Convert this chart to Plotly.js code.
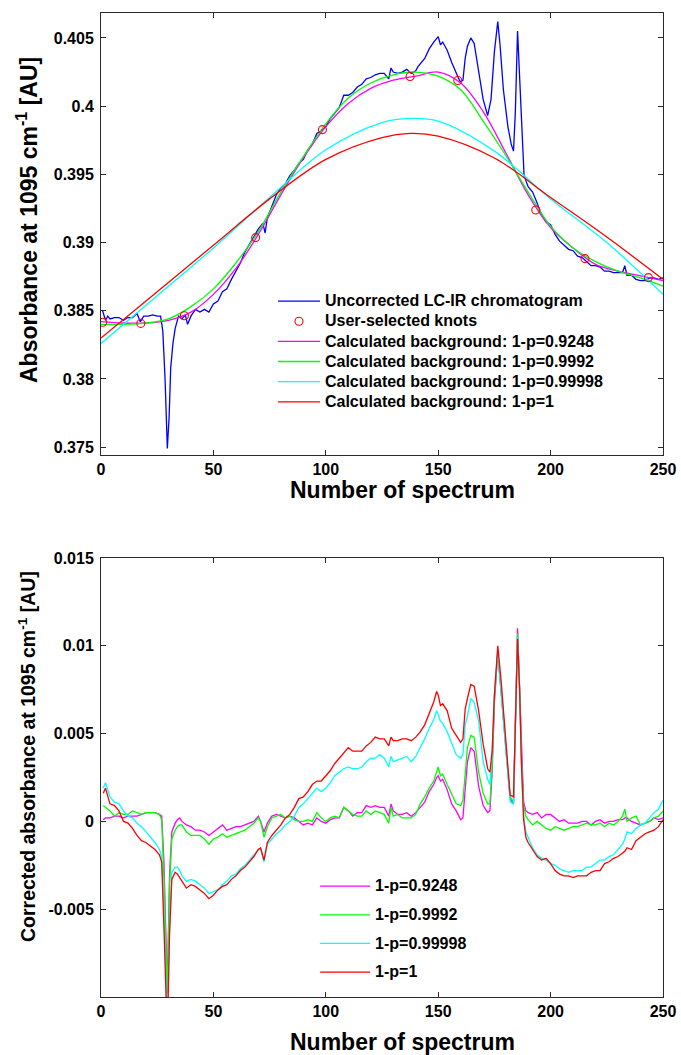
<!DOCTYPE html>
<html><head><meta charset="utf-8">
<script src="https://cdn.plot.ly/plotly-3.0.1.min.js"></script>
<style>html,body{margin:0;padding:0;background:#fff}#chart{width:681px;height:1055px}</style>
</head><body><div id="chart"></div>
<script>
// ---------- Top panel: uncorrected chromatogram ----------
const rawX = [0.7,2,3,4,6,8,10,12,14,16,
  17.5,19,21,23,25,26.5,27.5,28.5,29.5,30.3,
  31,32,33,34.5,36,37.5,38.5,40,42,44,
  46,48,50,52,54,56,58,60,62,64,
  66,68,70,72,73,74,76,78,80,82,
  84,86,88,90,92,94,96,98,100,102,
  104,106,108,110,112,114,116,118,120,122,
  124,126,128,129,130,132,134,136,138,140,
  141,142,144,146,148,150,151,152,154,156,
  158,159.7,161,162,163,164.5,166,168,170,172,
  173.5,175,176.5,177.5,179,181,182.5,183.5,184.3,185.3,
  186.2,187.2,188.2,190,192,194,196,198,200,202,
  204,206,208,210,212,214,216,218,220,222,
  224,226,228,230,232,233,234,236,238,240,
  242,244,246,248,250];
const rawY = [0.3850,0.3843,0.3846,0.3844,0.3845,0.3845,0.3843,0.3845,0.3845,0.3848,
  0.3842,0.3846,0.3846,0.3847,0.3846,0.3846,0.3835,0.3800,0.3749,0.3772,
  0.3808,0.3826,0.3837,0.3846,0.3844,0.3847,0.3840,0.3846,0.3851,0.3849,
  0.3851,0.3849,0.3855,0.3857,0.3864,0.3866,0.3873,0.3879,0.3885,0.3893,
  0.3899,0.3905,0.3910,0.3914,0.3907,0.3918,0.3927,0.3935,0.3940,0.3943,
  0.3949,0.3953,0.3958,0.3961,0.3968,0.3972,0.3980,0.3982,0.3985,0.3991,
  0.3995,0.3999,0.4008,0.4008,0.4010,0.4014,0.4016,0.4020,0.4021,0.4023,
  0.4024,0.4024,0.4020,0.4028,0.4025,0.4024,0.4025,0.4027,0.4024,0.4026,
  0.4029,0.4031,0.4035,0.4042,0.4047,0.4051,0.4045,0.4047,0.4041,0.4032,
  0.4024,0.4018,0.4019,0.4035,0.4044,0.4050,0.4046,0.4025,0.4005,0.3993,
  0.4005,0.4040,0.4062,0.4045,0.4012,0.3985,0.3972,0.3967,0.3995,0.4055,
  0.4020,0.3985,0.3949,0.3941,0.3937,0.3929,0.3920,0.3915,0.3913,0.3906,
  0.3901,0.3898,0.3895,0.3894,0.3890,0.3889,0.3886,0.3883,0.3883,0.3882,
  0.3879,0.3879,0.3878,0.3878,0.3878,0.3883,0.3876,0.3876,0.3873,0.3872,
  0.3872,0.3874,0.3874,0.3873,0.3874];

const knotX = [0.75,17.7,37.1,68.8,98.5,137.5,158.7,193.4,215.3,243.5];
const knotY = [0.38415,0.38407,0.38463,0.39036,0.39828,0.40217,0.40188,0.39238,0.38882,0.38743];

const bgX = [0,10,20,30,40,50,60,70,80,90,100,110,120,130,140,150,160,170,180,190,200,210,220,230,240,250];
const bgMagenta = [0.3842,0.3841,0.3841,0.3843,0.3849,0.3862,0.3881,0.3906,0.3935,0.3962,0.3985,0.4002,0.4013,0.4019,0.4022,0.4025,0.4017,0.3996,0.3966,0.3935,0.3911,0.3896,0.3884,0.3879,0.38755,0.3872];
const bgGreen = [0.3840,0.3840,0.3841,0.3844,0.3853,0.3866,0.3885,0.3908,0.3937,0.3963,0.3987,0.4006,0.4017,0.4023,0.4025,0.4022,0.4012,0.3989,0.3964,0.3937,0.3912,0.3896,0.3886,0.3879,0.3874,0.3868];
const bgX2 = [0,25,50,75,100,125,137.5,150,175,200,225,250];
const bgCyan = [0.3826,0.3861,0.3896,0.3933,0.3968,0.3988,0.3991,0.3989,0.3967,0.3932,0.3900,0.3862];
const bgRed = [0.3830,0.3864,0.3898,0.3932,0.3961,0.3977,0.3980,0.3978,0.3962,0.3933,0.3904,0.3873];

const topNames = ['Uncorrected LC-IR chromatogram','User-selected knots',
  'Calculated background: 1-p=0.9248','Calculated background: 1-p=0.9992',
  'Calculated background: 1-p=0.99998','Calculated background: 1-p=1'];
const topTickVals = [0.375,0.38,0.385,0.39,0.395,0.4,0.405];
const topTickText = ['0.375','0.38','0.385','0.39','0.395','0.4','0.405'];

// ---------- Bottom panel: corrected chromatograms ----------
const corrX = [1,2,4,6,8,10,12,14,16,18,
  20,22,24,26,27,28,29.5,30.5,31.5,33,
  34,35,36,38,40,42,44,46,48,50,
  52,54,56,58,60,62,64,66,68,70,
  71,72.5,74,76,78,80,82,84,86,88,
  90,92,94,96,98,100,102,104,106,108,
  110,112,114,116,118,120,122,124,126,128,
  129,130,132,134,136,138,140,142,144,146,
  148,149.3,150,151,152,154,156,158,160,161,
  162,163,164.5,166,168,170,172,173,174,175,
  176.5,178,180,182,183.5,184.3,185.3,186.2,187,188,
  189,190,192,194,196,198,200,202,204,206,
  208,210,212,214,216,218,220,222,224,226,
  228,230,232,233,234,236,238,240,242,244,
  246,248,250];
const corrMagenta = [0.0001,0.0002,0.0002,0.0003,0.0003,0.0002,0.0003,0.0003,0.0003,0.0004,
  0.0005,0.0005,0.0005,0.0004,0.0003,-0.0023,-0.0096,-0.0030,-0.0006,-0.0001,
  0.0001,0.0002,0.0000,-0.0002,-0.0003,-0.0005,-0.0005,-0.0006,-0.0008,-0.0006,
  -0.0004,-0.0002,-0.0005,-0.0004,-0.0003,-0.0003,-0.0002,-0.0001,0.0000,0.0003,
  0.0000,-0.0006,-0.0001,0.0003,0.0004,0.0003,0.0002,0.0003,0.0002,0.0000,
  -0.0002,-0.0001,-0.0002,0.0002,0.0000,-0.0001,0.0001,0.0002,0.0002,0.0008,
  0.0006,0.0003,0.0005,0.0005,0.0009,0.0008,0.0009,0.0008,0.0008,0.0003,
  0.0010,0.0006,0.0004,0.0004,0.0005,0.0003,0.0005,0.0008,0.0011,0.0017,
  0.0021,0.0025,0.0026,0.0023,0.0024,0.0018,0.0010,0.0006,0.0001,0.0002,
  0.0019,0.0034,0.0042,0.0040,0.0020,0.0009,0.0005,0.0006,0.0028,0.0068,
  0.0096,0.0074,0.0042,0.0013,0.0010,0.0057,0.0110,0.0076,0.0042,0.0011,
  0.0006,0.0005,0.0004,0.0005,0.0002,0.0004,0.0004,0.0002,0.0000,0.0001,
  -0.0001,-0.0001,-0.0001,0.0000,0.0000,-0.0002,0.0000,0.0001,-0.0001,0.0000,
  0.0000,0.0001,0.0001,0.0002,0.0002,0.0000,-0.0001,-0.0002,-0.0001,0.0000,
  0.0002,0.0001,0.0002];
const corrGreen = [0.0009,0.0008,0.0006,0.0003,0.0005,0.0004,0.0004,0.0006,0.0005,0.0004,
  0.0005,0.0005,0.0005,0.0004,0.0001,-0.0032,-0.0098,-0.0036,-0.0010,-0.0005,
  -0.0003,-0.0002,-0.0002,-0.0006,-0.0008,-0.0008,-0.0008,-0.0010,-0.0013,-0.0010,
  -0.0009,-0.0007,-0.0009,-0.0008,-0.0007,-0.0006,-0.0005,-0.0003,-0.0001,0.0002,
  0.0000,-0.0009,-0.0003,0.0002,0.0003,0.0004,0.0002,0.0003,0.0001,0.0000,
  0.0000,0.0001,0.0000,0.0005,0.0002,0.0000,0.0002,0.0003,0.0002,0.0008,
  0.0006,0.0004,0.0003,0.0003,0.0006,0.0004,0.0006,0.0005,0.0004,-0.0001,
  0.0008,0.0003,0.0004,0.0002,0.0002,0.0002,0.0004,0.0010,0.0014,0.0019,
  0.0023,0.0029,0.0031,0.0026,0.0027,0.0021,0.0015,0.0010,0.0009,0.0012,
  0.0027,0.0042,0.0049,0.0048,0.0028,0.0016,0.0010,0.0010,0.0032,0.0070,
  0.0097,0.0074,0.0046,0.0014,0.0011,0.0057,0.0107,0.0076,0.0038,0.0009,
  0.0003,0.0001,-0.0002,0.0000,-0.0002,-0.0004,-0.0005,-0.0003,-0.0004,-0.0005,
  -0.0004,-0.0003,-0.0003,-0.0002,-0.0001,-0.0002,-0.0002,-0.0001,-0.0003,-0.0001,
  -0.0002,0.0000,0.0003,0.0007,0.0000,0.0002,0.0003,-0.0002,-0.0001,0.0000,
  0.0002,0.0003,0.0006];
const corrCyan = [0.0019,0.0022,0.0014,0.0011,0.0010,0.0006,0.0003,0.0002,-0.0001,-0.0003,
  -0.0006,-0.0009,-0.0012,-0.0016,-0.0020,-0.0051,-0.0118,-0.0060,-0.0029,-0.0026,
  -0.0026,-0.0028,-0.0031,-0.0034,-0.0033,-0.0034,-0.0036,-0.0038,-0.0041,-0.0040,
  -0.0039,-0.0036,-0.0034,-0.0031,-0.0030,-0.0027,-0.0025,-0.0022,-0.0019,-0.0016,
  -0.0016,-0.0023,-0.0013,-0.0010,-0.0007,-0.0005,-0.0002,0.0000,0.0003,0.0008,
  0.0010,0.0013,0.0016,0.0019,0.0017,0.0019,0.0022,0.0026,0.0028,0.0030,
  0.0031,0.0030,0.0030,0.0031,0.0034,0.0036,0.0036,0.0038,0.0036,0.0031,
  0.0037,0.0034,0.0035,0.0036,0.0037,0.0034,0.0037,0.0042,0.0047,0.0053,
  0.0058,0.0063,0.0061,0.0057,0.0056,0.0051,0.0044,0.0038,0.0036,0.0038,
  0.0055,0.0060,0.0070,0.0068,0.0057,0.0034,0.0024,0.0021,0.0038,0.0072,
  0.0097,0.0074,0.0042,0.0011,0.0010,0.0057,0.0105,0.0074,0.0034,0.0003,
  -0.0006,-0.0009,-0.0015,-0.0019,-0.0021,-0.0022,-0.0024,-0.0025,-0.0027,-0.0028,
  -0.0029,-0.0028,-0.0028,-0.0028,-0.0026,-0.0026,-0.0024,-0.0022,-0.0022,-0.0020,
  -0.0019,-0.0016,-0.0013,-0.0010,-0.0006,-0.0007,-0.0004,-0.0002,-0.0001,0.0002,
  0.0005,0.0007,0.0012];
const corrRed = [0.0016,0.0019,0.0010,0.0009,0.0006,0.0000,-0.0001,-0.0004,-0.0008,-0.0011,
  -0.0012,-0.0014,-0.0016,-0.0019,-0.0023,-0.0060,-0.0122,-0.0064,-0.0033,-0.0029,
  -0.0030,-0.0032,-0.0034,-0.0038,-0.0036,-0.0037,-0.0039,-0.0041,-0.0044,-0.0042,
  -0.0039,-0.0037,-0.0036,-0.0033,-0.0031,-0.0028,-0.0026,-0.0023,-0.0020,-0.0016,
  -0.0015,-0.0022,-0.0012,-0.0008,-0.0005,-0.0002,0.0002,0.0004,0.0008,0.0013,
  0.0014,0.0017,0.0021,0.0023,0.0023,0.0026,0.0029,0.0033,0.0036,0.0039,
  0.0042,0.0040,0.0040,0.0040,0.0043,0.0045,0.0048,0.0047,0.0047,0.0043,
  0.0048,0.0046,0.0046,0.0047,0.0047,0.0046,0.0048,0.0051,0.0055,0.0062,
  0.0068,0.0074,0.0072,0.0066,0.0067,0.0063,0.0053,0.0049,0.0045,0.0047,
  0.0064,0.0070,0.0078,0.0077,0.0063,0.0044,0.0030,0.0028,0.0040,0.0072,
  0.0100,0.0080,0.0046,0.0015,0.0014,0.0057,0.0104,0.0076,0.0034,0.0001,
  -0.0009,-0.0012,-0.0016,-0.0020,-0.0022,-0.0021,-0.0024,-0.0028,-0.0030,-0.0031,
  -0.0031,-0.0032,-0.0031,-0.0031,-0.0031,-0.0029,-0.0028,-0.0028,-0.0024,-0.0023,
  -0.0021,-0.0020,-0.0018,-0.0017,-0.0015,-0.0016,-0.0011,-0.0009,-0.0007,-0.0006,
  -0.0005,-0.0003,0.0001];

const bottomNames = ['1-p=0.9248','1-p=0.9992','1-p=0.99998','1-p=1'];
const botTickVals = [-0.005,0,0.005,0.01,0.015];
const botTickText = ['-0.005','0','0.005','0.01','0.015'];
const xTickVals = [0,50,100,150,200,250];
const xTitle = 'Number of spectrum';
const yTitleTop = 'Absorbance at 1095 cm<sup>-1</sup> [AU]';
const yTitleBot = 'Corrected absorbance at 1095 cm<sup>-1</sup> [AU]';

const colors = {blue:'#0000ff', magenta:'#ff00ff', green:'#00ff00', cyan:'#00ffff', red:'#ff0000'};
const FONT = 'Liberation Sans, Arial, Helvetica, sans-serif';
const big = s => '<span style="font-size:16px">' + s + '</span>';

const traces = [
  {x: rawX, y: rawY, xaxis:'x', yaxis:'y', mode:'lines', name: big(topNames[0]), legend:'legend',
   line:{color:colors.blue, width:1.3}},
  {x: bgX, y: bgMagenta, xaxis:'x', yaxis:'y', mode:'lines', name: big(topNames[2]), legend:'legend',
   line:{color:colors.magenta, width:1.3, shape:'spline'}},
  {x: bgX, y: bgGreen, xaxis:'x', yaxis:'y', mode:'lines', name: big(topNames[3]), legend:'legend',
   line:{color:colors.green, width:1.3, shape:'spline'}},
  {x: bgX2, y: bgCyan, xaxis:'x', yaxis:'y', mode:'lines', name: big(topNames[4]), legend:'legend',
   line:{color:colors.cyan, width:1.3, shape:'spline'}},
  {x: bgX2, y: bgRed, xaxis:'x', yaxis:'y', mode:'lines', name: big(topNames[5]), legend:'legend',
   line:{color:colors.red, width:1.3, shape:'spline'}},
  {x: knotX, y: knotY, xaxis:'x', yaxis:'y', mode:'markers', name: big(topNames[1]), legend:'legend',
   marker:{symbol:'circle-open', size:8, color:colors.red, line:{width:1.1}}},
  {x: corrX, y: corrMagenta, xaxis:'x2', yaxis:'y2', mode:'lines', name: big(bottomNames[0]), legend:'legend2', legendgroup:'a',
   line:{color:colors.magenta, width:1.3}},
  {x: corrX, y: corrGreen, xaxis:'x2', yaxis:'y2', mode:'lines', name: big(bottomNames[1]), legend:'legend2', legendgroup:'b',
   line:{color:colors.green, width:1.3}},
  {x: corrX, y: corrCyan, xaxis:'x2', yaxis:'y2', mode:'lines', name: big(bottomNames[2]), legend:'legend2', legendgroup:'c',
   line:{color:colors.cyan, width:1.3}},
  {x: corrX, y: corrRed, xaxis:'x2', yaxis:'y2', mode:'lines', name: big(bottomNames[3]), legend:'legend2', legendgroup:'d',
   line:{color:colors.red, width:1.3}}
];
// legend order for the top panel
traces[0].legendrank = 1; traces[5].legendrank = 2; traces[1].legendrank = 3;
traces[2].legendrank = 4; traces[3].legendrank = 5; traces[4].legendrank = 6;

const axisCommon = {
  showline:true, linecolor:'#2a2a2a', linewidth:1, mirror:'ticks',
  ticks:'inside', ticklen:5, tickcolor:'#2a2a2a', tickwidth:1,
  showgrid:false, zeroline:false, automargin:false, ticklabelstandoff:3,
  tickfont:{family:FONT, size:16, color:'#000', weight:'bold'}
};
const tf = s => ({family:FONT, size:s, color:'#000', weight:'bold'});

// axis titles placed as paper annotations (positions measured on the reference)
const annotations = [
  {xref:'paper', yref:'paper', x:0.5356, y:(997-490)/984, xanchor:'center', yanchor:'middle',
   text:xTitle, showarrow:false, font:tf(23)},
  {xref:'paper', yref:'paper', x:0.5356, y:(997-1042)/984, xanchor:'center', yanchor:'middle',
   text:xTitle, showarrow:false, font:tf(23)},
  {xref:'paper', yref:'paper', x:(27-101)/562, y:(997-220)/984, xanchor:'center', yanchor:'middle',
   text:yTitleTop, textangle:-90, showarrow:false, font:tf(23)},
  {xref:'paper', yref:'paper', x:(27-101)/562, y:(997-757)/984, xanchor:'center', yanchor:'middle',
   text:yTitleBot, textangle:-90, showarrow:false, font:tf(19.5)}
];

const layout = {
  width:681, height:1055,
  margin:{l:101, r:18, t:13, b:58},
  paper_bgcolor:'#fff', plot_bgcolor:'#fff',
  font:{family:FONT, size:16, color:'#000', weight:'bold'},
  showlegend:true,
  annotations: annotations,
  xaxis: Object.assign({}, axisCommon, {anchor:'y', domain:[0,1], range:[0,250], tickvals:xTickVals, ticklabelstandoff:0}),
  yaxis: Object.assign({}, axisCommon, {anchor:'x', domain:[0.5508,1], range:[0.37442,0.40683],
    tickvals:topTickVals, ticktext:topTickText}),
  xaxis2: Object.assign({}, axisCommon, {anchor:'y2', domain:[0,1], range:[0,250], tickvals:xTickVals, ticklabelstandoff:0}),
  yaxis2: Object.assign({}, axisCommon, {anchor:'x2', domain:[0,0.4461], range:[-0.01,0.015],
    tickvals:botTickVals, ticktext:botTickText}),
  legend:{x:0.306, y:0.7226, xanchor:'left', yanchor:'top', bgcolor:'rgba(255,255,255,0)', borderwidth:0,
    font:tf(13.2), itemwidth:42, tracegroupgap:0, traceorder:'normal'},
  legend2:{x:0.381, y:0.128, xanchor:'left', yanchor:'top', bgcolor:'rgba(255,255,255,0)', borderwidth:0,
    font:tf(13.2), itemwidth:50, tracegroupgap:8.5, traceorder:'grouped'}
};

Plotly.newPlot('chart', traces, layout, {staticPlot:true, displayModeBar:false});
</script>
</body></html>
